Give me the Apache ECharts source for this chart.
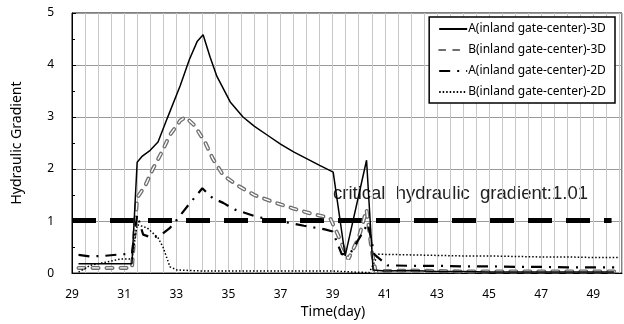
<!DOCTYPE html>
<html>
<head>
<meta charset="utf-8">
<script src="https://cdn.jsdelivr.net/npm/echarts@6/dist/echarts.min.js"></script>
<style>
  html, body { margin: 0; padding: 0; background: #fff; }
  #chart { width: 624px; height: 324px; }
</style>
</head>
<body>
<div id="chart"></div>
<script>
// A(inland gate-center)-3D
const a3dDays = [29.25, 31.3, 31.5, 31.7, 32.0, 32.3, 32.65, 33.15, 33.5, 33.8, 34.03, 34.3, 34.56, 35.07, 35.56, 36.0, 36.5, 37.0, 37.5, 38.0, 38.5, 39.02, 39.48, 40.3, 40.55, 41.0, 42, 43, 44, 45, 46, 47, 48, 49, 49.8];
const a3dVals = [0.18, 0.18, 2.13, 2.25, 2.36, 2.52, 2.97, 3.6, 4.1, 4.45, 4.58, 4.15, 3.78, 3.29, 3.0, 2.82, 2.65, 2.48, 2.33, 2.2, 2.07, 1.94, 0.33, 2.17, 0.06, 0.04, 0.05, 0.03, 0.03, 0.02, 0.02, 0.02, 0.02, 0.02, 0.02];

// B(inland gate-center)-3D
const b3dDays = [29.25, 31.3, 31.5, 31.8, 32.1, 32.45, 32.75, 33.15, 33.35, 33.7, 34.1, 34.4, 34.8, 35.4, 36.0, 36.7, 37.5, 38.2, 38.9, 39.2, 39.6, 40.0, 40.3, 40.5, 40.65, 41, 42, 43, 44, 45, 46, 47, 48, 49, 49.8];
const b3dVals = [0.1, 0.1, 1.45, 1.67, 2.0, 2.33, 2.65, 2.93, 3.0, 2.84, 2.52, 2.2, 1.88, 1.67, 1.5, 1.37, 1.24, 1.14, 1.06, 0.74, 0.27, 0.68, 1.22, 0.43, 0.03, 0.04, 0.05, 0.04, 0.03, 0.03, 0.03, 0.03, 0.03, 0.03, 0.03];

// A(inland gate-center)-2D
const a2dDays = [29.25, 29.7, 30.2, 30.85, 31.3, 31.5, 31.73, 32.07, 32.38, 32.76, 33.03, 33.5, 34.0, 34.4, 34.8, 35.25, 36.1, 37.0, 37.9, 38.7, 39.0, 39.35, 39.7, 40.35, 40.6, 41.1, 42, 43, 44, 45, 46, 47, 48, 49, 49.8];
const a2dVals = [0.35, 0.32, 0.33, 0.36, 0.37, 1.12, 0.74, 0.68, 0.72, 0.87, 1.03, 1.33, 1.63, 1.44, 1.35, 1.22, 1.08, 1.0, 0.91, 0.84, 0.8, 0.36, 0.4, 0.95, 0.36, 0.15, 0.14, 0.14, 0.13, 0.13, 0.12, 0.12, 0.11, 0.11, 0.11];

// B(inland gate-center)-2D
const b2dDays = [29.25, 29.7, 30.2, 30.85, 31.3, 31.5, 31.88, 32.3, 32.49, 32.76, 33.03, 34, 35, 36, 37, 38, 39, 39.8, 40.4, 40.75, 41, 42, 43, 44, 45, 46, 47, 48, 49, 50];
const b2dVals = [0.02, 0.15, 0.2, 0.27, 0.27, 0.93, 0.87, 0.68, 0.5, 0.12, 0.06, 0.04, 0.04, 0.04, 0.04, 0.04, 0.04, 0.02, 0.01, 0.36, 0.36, 0.35, 0.34, 0.33, 0.33, 0.32, 0.31, 0.31, 0.3, 0.3];

// critical hydraulic gradient
const criticalDays = [29, 49.7];
const criticalVal = 1.01;

const seriesNames = ["A(inland gate-center)-3D", "B(inland gate-center)-3D", "A(inland gate-center)-2D", "B(inland gate-center)-2D"];

function pairs(xs, ys) {
  return xs.map((x, i) => [x, ys[i]]);
}

const chart = echarts.init(document.getElementById("chart"));
const labelFont = "'Noto Sans', 'DejaVu Sans', sans-serif";

chart.setOption({
  animation: false,
  grid: {
    left: 72, right: 2, top: 13, bottom: 48,
    show: true, borderColor: "#000", borderWidth: 1
  },
  legend: {
    data: seriesNames,
    orient: "vertical",
    right: 9, top: 17,
    backgroundColor: "#fff",
    borderColor: "#000",
    borderWidth: 1.5,
    borderRadius: 0,
    padding: [6, 9, 5, 9],
    itemWidth: 28, itemHeight: 14, itemGap: 9,
    itemStyle: { opacity: 0 },
    textStyle: { fontFamily: labelFont, fontSize: 12, color: "#000", padding: [0, 0, 0, -4] }
  },
  xAxis: {
    type: "value",
    min: 29, max: 50.1, interval: 0.5,
    name: "Time(day)",
    nameLocation: "middle",
    nameGap: 30,
    nameTextStyle: { fontFamily: labelFont, fontSize: 14, color: "#000", padding: [0, 28, 0, 0] },
    axisLine: { lineStyle: { color: "#000" } },
    axisTick: { show: false },
    axisLabel: {
      fontFamily: labelFont, fontSize: 12, color: "#000", margin: 15,
      showMaxLabel: false,
      formatter: v => (Math.abs(v - Math.round(v)) < 1e-6 && Math.round(v) % 2 === 1) ? String(Math.round(v)) : ""
    },
    splitLine: { show: true, lineStyle: { color: "#c8c8c8", width: 1 } }
  },
  yAxis: {
    type: "value",
    min: 0, max: 5, interval: 1,
    name: "Hydraulic Gradient",
    nameLocation: "middle",
    nameGap: 48,
    nameTextStyle: { fontFamily: labelFont, fontSize: 14, color: "#000" },
    axisLine: { show: true, lineStyle: { color: "#000" } },
    axisTick: { show: true, inside: true, length: 4, lineStyle: { color: "#000" } },
    minorTick: { show: true, splitNumber: 2, length: 3, lineStyle: { color: "#000" } },
    axisLabel: { fontFamily: labelFont, fontSize: 12, color: "#000", margin: 18 },
    splitLine: { show: true, lineStyle: { color: "#9a9a9a", width: 1 } }
  },
  graphic: [{
    type: "text",
    left: 333, top: 184,
    silent: true,
    style: {
      text: "critical  hydraulic  gradient:1.01",
      fontFamily: "'Liberation Sans', Arial, sans-serif",
      fontSize: 18.5,
      fill: "#222"
    }
  }],
  series: [
    {
      name: "critical",
      type: "line",
      data: criticalDays.map(d => [d, criticalVal]),
      showSymbol: false, silent: true,
      lineStyle: { color: "#000", width: 5, type: [24, 14] },
      z: 1
    },
    {
      name: seriesNames[0],
      type: "line",
      data: pairs(a3dDays, a3dVals),
      showSymbol: false, symbol: "none",
      itemStyle: { color: "#000" },
      lineStyle: { color: "#000", width: 1.5 },
      z: 5
    },
    {
      name: seriesNames[1],
      type: "line",
      data: pairs(b3dDays, b3dVals),
      showSymbol: false, symbol: "none",
      itemStyle: { color: "#6e6e6e" },
      lineStyle: { color: "#6e6e6e", width: 4, type: [6, 8], cap: "round" },
      z: 3
    },
    {
      name: "B3D-inner",
      type: "line",
      data: pairs(b3dDays, b3dVals),
      showSymbol: false, symbol: "none", silent: true,
      lineStyle: { color: "#fff", width: 1.4, type: [6, 8], cap: "round" },
      z: 3
    },
    {
      name: seriesNames[2],
      type: "line",
      data: pairs(a2dDays, a2dVals),
      showSymbol: false, symbol: "none",
      itemStyle: { color: "#000" },
      lineStyle: { color: "#000", width: 2.2, type: [11, 7, 2, 7] },
      z: 4
    },
    {
      name: seriesNames[3],
      type: "line",
      data: pairs(b2dDays, b2dVals),
      showSymbol: false, symbol: "none",
      itemStyle: { color: "#000" },
      lineStyle: { color: "#000", width: 1.5, type: [1.5, 2] },
      z: 4
    }
  ]
});
</script>
</body>
</html>
